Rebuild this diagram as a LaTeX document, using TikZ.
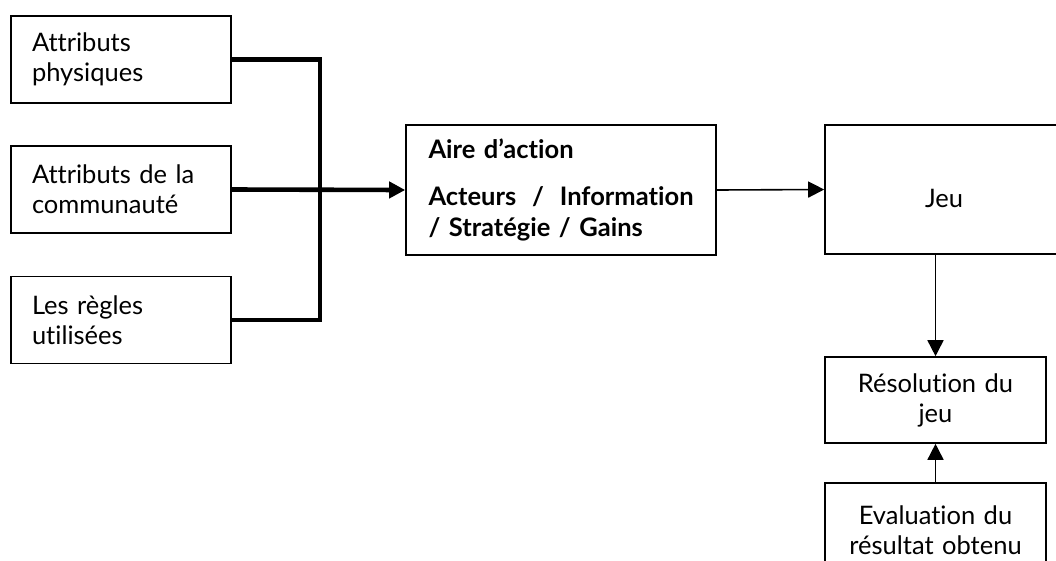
\documentclass[tikz,border=0pt]{standalone}
\usepackage{fontspec}
\setmainfont{Lato}[Ligatures=NoCommon]
\usetikzlibrary{arrows.meta}
\begin{document}
\begin{tikzpicture}[x=1pt,y=-1pt,
  every node/.style={font=\fontsize{25.5}{30}\selectfont},
  box/.style={draw,line width=1.6pt,inner ysep=0pt,anchor=center},
  srcbox/.style={box,text width=178pt,inner xsep=21pt,align=left,
    minimum width=220pt,minimum height=87pt},
  midbox/.style={box,text width=211pt,inner xsep=5pt,align=center,
    minimum width=221pt},
  bus/.style={line width=4.6pt,line join=miter},
  busarrow/.style={line width=4.6pt,-{Triangle[length=16pt,width=16pt]}},
  flow/.style={line width=1.6pt,-{Triangle[length=16pt,width=16pt]}}]
\useasboundingbox (0,0) rectangle (1056,560);
\clip (0,0) rectangle (1056,560);

% source boxes on the left
\node[srcbox] (b1) at (121,59.5) {Attributs\\physiques};
\node[srcbox] (b2) at (121,189.5) {Attributs de la\\communauté};
\node[srcbox] (b3) at (121,320) {Les règles\\utilisées};

% action arena
\node[box,text width=265pt,inner xsep=22.5pt,align=left,
  minimum width=310pt,minimum height=130pt,font=\fontsize{25.5}{31}\selectfont\bfseries]
  (aire) at (561,190)
  {Aire d’action\\[16pt]Acteurs\hfill/\hfill Information\\/ Stratégie / Gains};

% game and its outcome
\node[box,minimum width=238pt,minimum height=129pt,text height=36pt,text depth=0pt]
  (jeu) at (944,189.5) {Jeu};
\node[midbox,minimum height=86pt] (res) at (935.5,400) {Résolution du\\jeu};
\node[midbox,minimum height=94pt] (eval) at (935.5,530) {Evaluation du\\résultat obtenu};

% thick collector bus
\coordinate (bus) at (320,190);
\draw[bus] (b1.east) -| (bus) |- (b3.east);
\draw[busarrow] (b2.east) -- (aire.west);

% thin flow arrows
\draw[flow] (aire.east) -- (jeu.west);
\draw[flow] (res.north |- jeu.south) -- (res.north);
\draw[flow] (eval.north) -- (res.south);
\end{tikzpicture}
\end{document}
